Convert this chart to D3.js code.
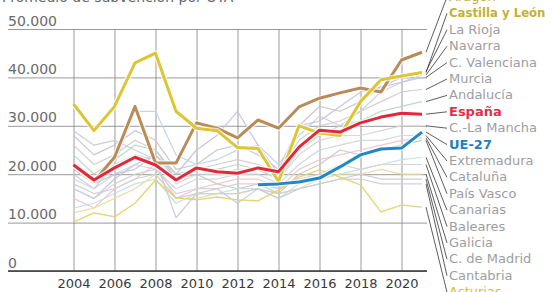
<!DOCTYPE html>
<html><head><meta charset="utf-8">
<script src="https://cdn.jsdelivr.net/npm/d3@7"></script>
<style>
html,body{margin:0;padding:0;background:#fff;}
svg{display:block;}
text{font-family:"DejaVu Sans",sans-serif;}
.cond{font-family:"DejaVu Sans Condensed","DejaVu Sans",sans-serif;font-stretch:condensed;font-weight:bold;}
</style></head>
<body><svg id="c" width="555" height="292"></svg>
<script>
const years = d3.range(2004, 2022);
const yTicks = [0, 10000, 20000, 30000, 40000, 50000];
const xTicks = [2004, 2006, 2008, 2010, 2012, 2014, 2016, 2018, 2020];
const title = "Promedio de subvención por UTA";

// values in thousands of euros
const aragon      = [22,18.5,23.5,34,22.3,22.3,30.6,29.5,27.5,31.2,29.5,33.9,35.7,36.8,37.8,37,43.6,45.2];
const castillaLeon= [34.5,29,34,43,45,33,29.5,29,25.5,25.3,18.5,30,28.5,28,35,39.5,40.3,41];
const laRioja     = [28,24,26,29,27,21,22,25,26,24,21,30,34,33,35,38,40,41.2];
const navarra     = [20,17,22,33,33,24,22,23,25,26,22,28,32,30,33,37,39,40.5];
const cValenciana = [17,15,19,22,24,20,25,28,33,26,20,30,31,34,37,38,39,40];
const murcia      = [26,22,24,27,25,19,21,22,23,22,20,27,30,31,33,35,37,37.5];
const andalucia   = [24,20,23,26,25,20,21,21,22,21,19,25,28,30,31,33,34,35];
const espana      = [21.9,18.8,21.3,23.5,21.9,18.8,21.3,20.5,20.2,21.3,20.5,25.6,29.1,28.7,30.6,31.8,32.6,32.4];
const cLaMancha   = [22,19,22,24,23,18,20,20,21,21,19,24,27,28,28,29,30,30];
const ue27        = [null,null,null,null,null,null,null,null,null,17.8,18,18.4,19.2,21.5,24,25.2,25.4,28.7];
const extremadura = [19,17,20,22,21,17,19,19,20,20,18,22,25,26,27,27,28,28];
const cataluna    = [15,13,17,19,22,15,17,18,19,19,17,21,23,24,25,26,27,27.5];
const paisVasco   = [21,18,20,21,24,19,20,18,17,18,16,20,22,25,24,25,26,27];
const canarias    = [13,14,16,18,19,14,16,16,17,17,15,18,19,20,21,22,23,23.5];
const baleares    = [17,15,18,20,21,16,17,17,18,18,17,19,20,22,21,22,22,22];
const galicia     = [12,13,15,17,20,15,15,16,16,17,16,17,19,20,20,21,20,20];
const cMadrid     = [29,26,27,25,23,11,16,17,14,17,15,17,18,19,20,19,19,19];
const cantabria   = [18,16,17,19,20,15,16,16,16,17,16,17,18,19,19,18,18,18];
const asturias    = [10.1,12,11.2,14,18.8,15.1,14.7,15.3,14.7,14.5,16.7,19.4,20.9,19.4,17.8,12.2,13.6,13.2];

const labels = ["Aragón","Castilla y León","La Rioja","Navarra","C. Valenciana","Murcia","Andalucía","España","C.-La Mancha","UE-27","Extremadura","Cataluña","País Vasco","Canarias","Baleares","Galicia","C. de Madrid","Cantabria","Asturias"];
const seriesData = [aragon,castillaLeon,laRioja,navarra,cValenciana,murcia,andalucia,espana,cLaMancha,ue27,extremadura,cataluna,paisVasco,canarias,baleares,galicia,cMadrid,cantabria,asturias];
const lineColors = ["#b98b58","#dcc634","#c6c6cc","#c4d2e2","#c6c0e4","#cfcfcf","#b8d8c4","#e3283c","#d6d6d6","#1f88c6","#cdd6de","#f2c4cc","#c8c8c8","#bfe0e6","#d2d2d2","#eadb9e","#c4ccd8","#d0d0d0","#e6d26a"];
const labelColors = ["#c9a640","#c4b038","#9e9e9e","#9e9e9e","#9e9e9e","#9e9e9e","#9e9e9e","#e0314a","#9e9e9e","#1f80c0","#9e9e9e","#9e9e9e","#9e9e9e","#9e9e9e","#9e9e9e","#9e9e9e","#9e9e9e","#9e9e9e","#d8bc40"];
const bold = ["Aragón","Castilla y León","España","UE-27"];

const svg = d3.select("#c");
const x = d3.scaleLinear().domain([2004, 2021]).range([73.5, 422]);
const y = d3.scaleLinear().domain([0, 50000]).range([271, 29]);
const fmt = d3.formatLocale({decimal:",", thousands:".", grouping:[3], currency:["","€"]}).format(",");

// title (cut at top, as in the reference)
svg.append("text").attr("x", 2).attr("y", 2).attr("font-size", 14).attr("fill", "#666").text(title);

// horizontal grid + y labels
const gy = svg.append("g").attr("transform", "translate(8,0)")
  .call(d3.axisRight(y).tickValues(yTicks).tickSize(419).tickFormat(fmt));
gy.select(".domain").remove();
gy.selectAll(".tick line").attr("stroke", "#808080").attr("stroke-width", 0.8);
gy.selectAll(".tick text").attr("x", 0).attr("dy", null).attr("y", -4).attr("text-anchor", "start")
  .attr("font-size", 14).attr("fill", "#6a6a6a").attr("font-family", "DejaVu Sans");

// vertical grid + x labels
const gx = svg.append("g").attr("transform", "translate(0,271)")
  .call(d3.axisBottom(x).tickValues(xTicks).tickSize(-242).tickFormat(d3.format("d")));
gx.select(".domain").remove();
gx.selectAll(".tick line").attr("stroke", "#808080").attr("stroke-width", 0.8);
gx.selectAll(".tick text").attr("y", 17).attr("dy", null).attr("font-size", 13).attr("fill", "#3a3a3a").attr("font-family", "DejaVu Sans");

// baseline
svg.append("line").attr("x1", 8).attr("x2", 427).attr("y1", y(0)).attr("y2", y(0)).attr("stroke", "#333").attr("stroke-width", 1.3);

const line = d3.line().defined(d => d != null).x((d, i) => x(years[i])).y(d => y(d * 1000));

const order = d3.range(labels.length).sort((a, b) => (bold.includes(labels[a]) ? 1 : 0) - (bold.includes(labels[b]) ? 1 : 0));
const gl = svg.append("g");
order.forEach(i => {
  const isBold = bold.includes(labels[i]);
  if (isBold) {
    gl.append("path").attr("d", line(seriesData[i])).attr("fill", "none")
      .attr("stroke", "#fff").attr("stroke-opacity", 0.7).attr("stroke-width", 5.5).attr("stroke-linejoin", "round");
  }
  gl.append("path").attr("d", line(seriesData[i])).attr("fill", "none")
    .attr("stroke", lineColors[i]).attr("stroke-width", isBold ? 3 : (labels[i]==="Asturias" ? 1.4 : 1.2))
    .attr("stroke-opacity", isBold ? 1 : 0.95).attr("stroke-linejoin", "round");
});

// labels + connectors
const lbY = i => 1 + 16.4 * i;
const gLab = svg.append("g");
labels.forEach((name, i) => {
  const vals = seriesData[i];
  const endV = vals[vals.length - 1];
  gLab.append("line").attr("x1", 426).attr("y1", y(endV * 1000))
    .attr("x2", 447).attr("y2", lbY(i) - 4)
    .attr("stroke", "#333").attr("stroke-width", 0.8);
  const t = gLab.append("text").attr("x", 449).attr("y", lbY(i)).attr("font-size", 13)
    .attr("fill", labelColors[i]).text(name);
  if (name === "Castilla y León") t.attr("class", "cond");
  else if (name === "España" || name === "UE-27") t.attr("font-weight", "bold");
});
</script></body></html>
